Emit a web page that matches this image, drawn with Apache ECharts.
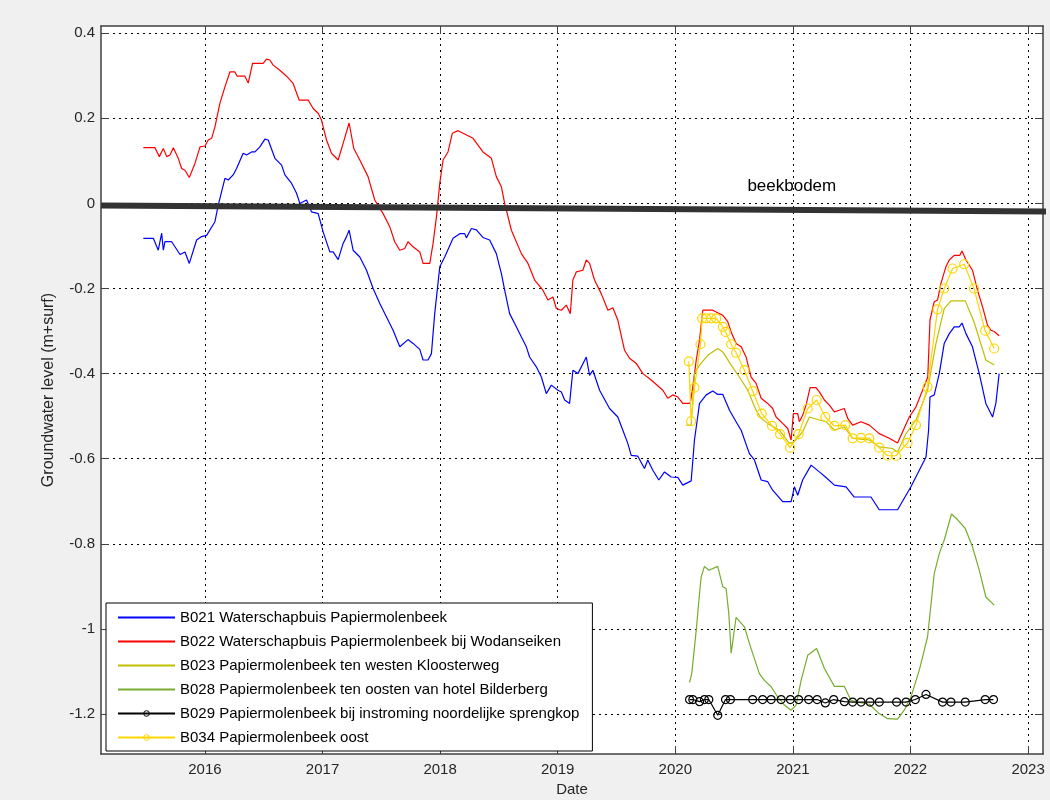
<!DOCTYPE html>
<html><head><meta charset="utf-8">
<script src="https://cdn.jsdelivr.net/npm/echarts@6/dist/echarts.min.js"></script>
<style>html,body{margin:0;padding:0;background:#f0f0f0;}#c{width:1050px;height:800px;}</style>
</head><body><div id="c"></div>
<script>
// ---- tick labels / ranges ----
const xTicks = [2016, 2017, 2018, 2019, 2020, 2021, 2022, 2023];
const yTicks = [-1.2, -1, -0.8, -0.6, -0.4, -0.2, 0, 0.2, 0.4];
const xRange = [2015.116, 2023.127];
const yRange = [-1.294, 0.417];

// ---- series names ----
const names = [
  'B021 Waterschapbuis Papiermolenbeek',
  'B022 Waterschapbuis Papiermolenbeek bij Wodanseiken',
  'B023 Papiermolenbeek ten westen Kloosterweg',
  'B028 Papiermolenbeek ten oosten van hotel Bilderberg',
  'B029 Papiermolenbeek bij instroming noordelijke sprengkop',
  'B034 Papiermolenbeek oost'
];

// ---- data: [decimal year, groundwater level m+surf] ----
const B021 = [[2015.476,-0.082],[2015.561,-0.082],[2015.603,-0.11],[2015.632,-0.07],[2015.646,-0.11],[2015.66,-0.09],[2015.717,-0.09],[2015.788,-0.12],[2015.83,-0.114],[2015.867,-0.141],[2015.929,-0.086],[2015.972,-0.078],[2016.014,-0.075],[2016.085,-0.043],[2016.113,-0.004],[2016.17,0.059],[2016.198,0.055],[2016.24,0.067],[2016.269,0.082],[2016.325,0.118],[2016.354,0.114],[2016.397,0.121],[2016.425,0.121],[2016.467,0.133],[2016.51,0.151],[2016.538,0.149],[2016.595,0.106],[2016.652,0.09],[2016.68,0.067],[2016.737,0.047],[2016.779,0.024],[2016.807,0.0],[2016.864,0.008],[2016.907,-0.02],[2016.963,-0.024],[2017.005,-0.067],[2017.062,-0.114],[2017.09,-0.114],[2017.133,-0.132],[2017.175,-0.094],[2017.204,-0.078],[2017.226,-0.063],[2017.26,-0.11],[2017.317,-0.126],[2017.374,-0.157],[2017.43,-0.2],[2017.487,-0.235],[2017.544,-0.267],[2017.6,-0.298],[2017.657,-0.337],[2017.727,-0.32],[2017.77,-0.329],[2017.827,-0.343],[2017.855,-0.368],[2017.897,-0.368],[2017.926,-0.353],[2017.954,-0.259],[2017.997,-0.149],[2018.039,-0.126],[2018.11,-0.082],[2018.167,-0.071],[2018.209,-0.071],[2018.223,-0.081],[2018.266,-0.059],[2018.308,-0.062],[2018.364,-0.08],[2018.421,-0.086],[2018.478,-0.118],[2018.521,-0.165],[2018.549,-0.204],[2018.591,-0.259],[2018.648,-0.29],[2018.691,-0.314],[2018.733,-0.337],[2018.761,-0.361],[2018.818,-0.384],[2018.861,-0.408],[2018.903,-0.447],[2018.946,-0.427],[2019.002,-0.439],[2019.031,-0.443],[2019.059,-0.462],[2019.101,-0.47],[2019.129,-0.392],[2019.172,-0.4],[2019.243,-0.361],[2019.271,-0.404],[2019.299,-0.392],[2019.356,-0.439],[2019.441,-0.482],[2019.511,-0.502],[2019.554,-0.533],[2019.596,-0.564],[2019.625,-0.592],[2019.681,-0.594],[2019.738,-0.623],[2019.766,-0.603],[2019.809,-0.627],[2019.86,-0.65],[2019.908,-0.631],[2019.965,-0.643],[2020.021,-0.644],[2020.064,-0.662],[2020.135,-0.652],[2020.163,-0.556],[2020.206,-0.47],[2020.263,-0.45],[2020.319,-0.441],[2020.361,-0.449],[2020.404,-0.449],[2020.461,-0.486],[2020.517,-0.513],[2020.56,-0.533],[2020.63,-0.588],[2020.673,-0.603],[2020.73,-0.65],[2020.786,-0.654],[2020.828,-0.674],[2020.913,-0.701],[2020.985,-0.701],[2021.013,-0.666],[2021.041,-0.686],[2021.083,-0.65],[2021.155,-0.615],[2021.225,-0.631],[2021.282,-0.644],[2021.353,-0.662],[2021.452,-0.666],[2021.522,-0.69],[2021.664,-0.69],[2021.734,-0.72],[2021.89,-0.72],[2022.004,-0.666],[2022.132,-0.596],[2022.154,-0.533],[2022.166,-0.455],[2022.202,-0.45],[2022.245,-0.4],[2022.287,-0.329],[2022.33,-0.306],[2022.372,-0.29],[2022.415,-0.29],[2022.438,-0.281],[2022.472,-0.306],[2022.527,-0.337],[2022.585,-0.4],[2022.641,-0.47],[2022.698,-0.502],[2022.726,-0.47],[2022.754,-0.4]];

const B022 = [[2015.476,0.131],[2015.575,0.131],[2015.612,0.11],[2015.646,0.129],[2015.675,0.11],[2015.703,0.114],[2015.731,0.131],[2015.773,0.106],[2015.802,0.082],[2015.83,0.078],[2015.867,0.061],[2015.915,0.094],[2015.958,0.133],[2016.0,0.135],[2016.028,0.149],[2016.057,0.153],[2016.085,0.18],[2016.127,0.235],[2016.17,0.274],[2016.212,0.309],[2016.255,0.309],[2016.274,0.299],[2016.34,0.299],[2016.368,0.283],[2016.405,0.329],[2016.495,0.329],[2016.524,0.339],[2016.552,0.337],[2016.58,0.325],[2016.637,0.313],[2016.694,0.299],[2016.75,0.282],[2016.801,0.243],[2016.878,0.243],[2016.92,0.223],[2016.963,0.212],[2016.991,0.196],[2017.034,0.149],[2017.076,0.118],[2017.133,0.102],[2017.175,0.141],[2017.226,0.189],[2017.266,0.129],[2017.317,0.102],[2017.387,0.063],[2017.444,0.008],[2017.515,-0.024],[2017.572,-0.055],[2017.614,-0.09],[2017.657,-0.11],[2017.699,-0.106],[2017.727,-0.09],[2017.77,-0.102],[2017.827,-0.114],[2017.855,-0.141],[2017.912,-0.141],[2017.94,-0.094],[2017.969,-0.031],[2017.997,0.047],[2018.025,0.102],[2018.067,0.121],[2018.104,0.165],[2018.152,0.171],[2018.195,0.165],[2018.28,0.153],[2018.364,0.121],[2018.436,0.106],[2018.478,0.063],[2018.521,0.039],[2018.549,0.0],[2018.606,-0.063],[2018.691,-0.118],[2018.747,-0.141],[2018.804,-0.18],[2018.874,-0.204],[2018.917,-0.227],[2018.96,-0.22],[2018.988,-0.247],[2019.031,-0.251],[2019.073,-0.239],[2019.107,-0.259],[2019.129,-0.18],[2019.158,-0.161],[2019.214,-0.157],[2019.243,-0.133],[2019.271,-0.141],[2019.313,-0.18],[2019.37,-0.212],[2019.427,-0.251],[2019.469,-0.245],[2019.511,-0.274],[2019.568,-0.345],[2019.611,-0.364],[2019.668,-0.376],[2019.724,-0.4],[2019.795,-0.415],[2019.894,-0.439],[2019.936,-0.458],[2019.979,-0.45],[2020.021,-0.455],[2020.064,-0.47],[2020.127,-0.47],[2020.149,-0.431],[2020.178,-0.368],[2020.206,-0.321],[2020.234,-0.251],[2020.319,-0.251],[2020.348,-0.255],[2020.404,-0.263],[2020.446,-0.278],[2020.475,-0.302],[2020.517,-0.329],[2020.56,-0.337],[2020.602,-0.361],[2020.645,-0.408],[2020.687,-0.423],[2020.73,-0.458],[2020.786,-0.47],[2020.828,-0.482],[2020.857,-0.502],[2020.913,-0.517],[2020.956,-0.529],[2020.985,-0.556],[2021.004,-0.494],[2021.041,-0.494],[2021.055,-0.513],[2021.083,-0.498],[2021.112,-0.474],[2021.146,-0.433],[2021.197,-0.433],[2021.225,-0.443],[2021.268,-0.462],[2021.31,-0.474],[2021.353,-0.49],[2021.394,-0.486],[2021.437,-0.482],[2021.466,-0.505],[2021.508,-0.521],[2021.58,-0.513],[2021.65,-0.521],[2021.734,-0.541],[2021.82,-0.552],[2021.89,-0.563],[2021.99,-0.502],[2022.047,-0.478],[2022.103,-0.439],[2022.147,-0.408],[2022.166,-0.274],[2022.202,-0.231],[2022.23,-0.227],[2022.259,-0.188],[2022.301,-0.149],[2022.33,-0.133],[2022.372,-0.122],[2022.42,-0.122],[2022.438,-0.112],[2022.472,-0.133],[2022.527,-0.157],[2022.57,-0.204],[2022.613,-0.243],[2022.655,-0.286],[2022.684,-0.298],[2022.712,-0.301],[2022.754,-0.311]];

const B023 = [[2020.093,-0.521],[2020.135,-0.521],[2020.163,-0.4],[2020.206,-0.38],[2020.276,-0.357],[2020.361,-0.341],[2020.404,-0.349],[2020.475,-0.38],[2020.545,-0.408],[2020.616,-0.439],[2020.687,-0.486],[2020.73,-0.505],[2020.786,-0.517],[2020.885,-0.533],[2020.97,-0.564],[2021.013,-0.56],[2021.083,-0.537],[2021.14,-0.502],[2021.225,-0.509],[2021.282,-0.513],[2021.353,-0.533],[2021.437,-0.525],[2021.508,-0.552],[2021.65,-0.556],[2021.734,-0.572],[2021.848,-0.576],[2021.89,-0.584],[2021.962,-0.541],[2022.047,-0.509],[2022.145,-0.439],[2022.217,-0.329],[2022.287,-0.247],[2022.344,-0.229],[2022.466,-0.229],[2022.54,-0.278],[2022.641,-0.368],[2022.712,-0.38]];

const B028 = [[2020.121,-1.126],[2020.14,-1.105],[2020.178,-1.003],[2020.206,-0.917],[2020.22,-0.878],[2020.248,-0.853],[2020.285,-0.862],[2020.361,-0.853],[2020.404,-0.901],[2020.432,-0.905],[2020.455,-0.964],[2020.475,-1.057],[2020.517,-0.973],[2020.588,-0.995],[2020.63,-1.034],[2020.715,-1.105],[2020.758,-1.121],[2020.815,-1.136],[2020.871,-1.16],[2020.928,-1.179],[2020.985,-1.191],[2021.027,-1.179],[2021.07,-1.121],[2021.126,-1.062],[2021.202,-1.046],[2021.268,-1.093],[2021.353,-1.135],[2021.437,-1.135],[2021.494,-1.168],[2021.565,-1.173],[2021.65,-1.177],[2021.734,-1.199],[2021.805,-1.211],[2021.89,-1.212],[2021.947,-1.191],[2022.004,-1.16],[2022.075,-1.097],[2022.145,-1.019],[2022.202,-0.87],[2022.245,-0.823],[2022.287,-0.791],[2022.349,-0.73],[2022.4,-0.743],[2022.466,-0.764],[2022.527,-0.807],[2022.585,-0.862],[2022.641,-0.925],[2022.712,-0.944]];

const B029 = [[2020.121,-1.166],[2020.149,-1.166],[2020.206,-1.171],[2020.248,-1.166],[2020.285,-1.166],[2020.361,-1.203],[2020.427,-1.166],[2020.469,-1.166],[2020.658,-1.166],[2020.743,-1.166],[2020.815,-1.166],[2020.9,-1.166],[2020.979,-1.166],[2021.049,-1.166],[2021.134,-1.166],[2021.206,-1.166],[2021.276,-1.174],[2021.347,-1.166],[2021.438,-1.171],[2021.508,-1.172],[2021.58,-1.172],[2021.656,-1.172],[2021.735,-1.172],[2021.882,-1.172],[2021.962,-1.172],[2022.041,-1.166],[2022.132,-1.154],[2022.273,-1.172],[2022.344,-1.172],[2022.466,-1.172],[2022.635,-1.166],[2022.706,-1.166]];

const B034 = [[2020.115,-0.371],[2020.135,-0.512],[2020.163,-0.433],[2020.214,-0.331],[2020.228,-0.27],[2020.263,-0.27],[2020.305,-0.27],[2020.348,-0.27],[2020.404,-0.29],[2020.427,-0.302],[2020.475,-0.331],[2020.517,-0.351],[2020.588,-0.392],[2020.658,-0.441],[2020.735,-0.494],[2020.823,-0.523],[2020.891,-0.542],[2020.976,-0.574],[2021.049,-0.542],[2021.126,-0.482],[2021.202,-0.462],[2021.276,-0.502],[2021.353,-0.523],[2021.446,-0.521],[2021.508,-0.552],[2021.58,-0.551],[2021.65,-0.552],[2021.734,-0.574],[2021.805,-0.593],[2021.876,-0.593],[2021.975,-0.563],[2022.047,-0.521],[2022.145,-0.431],[2022.23,-0.249],[2022.287,-0.2],[2022.358,-0.153],[2022.457,-0.143],[2022.54,-0.2],[2022.635,-0.299],[2022.712,-0.341]];

// streambed reference line ("beekbodem") and its label anchor
const beekbodem = [[2015.116,-0.005],[2023.179,-0.019]];
const beekLabelAt = [2020.613, 0.041];

const colors = ['#0000ff', '#ff0000', '#bfbf00', '#77ac30', '#000000', '#ffd500'];
const seriesData = [B021, B022, B023, B028, B029, B034];
const withMarkers = [false, false, false, false, true, true];

const FONT = '"Liberation Sans", Arial, sans-serif';
const frame = '#404040';

const chart = echarts.init(document.getElementById('c'), null, {renderer: 'canvas'});

const series = seriesData.map((d, i) => {
  const s = {
    name: names[i], type: 'line', data: d, animation: false,
    lineStyle: {color: colors[i], width: 1.2},
    emphasis: {disabled: true}, z: 3
  };
  if (withMarkers[i]) {
    s.symbol = 'circle';
    s.symbolSize = i === 5 ? 9 : 8;
    s.showSymbol = true;
    s.itemStyle = {color: 'rgba(255,255,255,0)', borderColor: colors[i], borderWidth: 1.2};
  } else {
    s.symbol = 'none';
    s.itemStyle = {color: colors[i]};
  }
  return s;
});

series.push({
  name: 'beekbodem', type: 'line', data: beekbodem, symbol: 'none', clip: false,
  animation: false, silent: true, z: 6,
  lineStyle: {color: '#333333', width: 6},
  markPoint: {
    symbol: 'circle', symbolSize: 0, silent: true, animation: false,
    data: [{coord: beekLabelAt}],
    label: {show: true, formatter: 'beekbodem', position: 'right', distance: 0,
            fontSize: 17, color: '#000', fontFamily: FONT}
  }
});

const legendItems = names.map((n, i) => withMarkers[i]
  ? {name: n, itemStyle: {color: 'rgba(255,255,255,0)', borderColor: colors[i], borderWidth: 1}}
  : {name: n, itemStyle: {opacity: 0}});

const dotted = {color: '#000', width: 1, type: [2, 4]};

const option = {
  animation: false,
  backgroundColor: '#f0f0f0',
  textStyle: {fontFamily: FONT},
  grid: {left: 101, top: 26, width: 942, height: 728, show: true,
         backgroundColor: '#ffffff', borderWidth: 0, containLabel: false, outerBoundsMode: 'none'},
  legend: {
    data: legendItems, orient: 'vertical', left: 106, top: 603,
    itemWidth: 57, itemHeight: 7, itemGap: 9,
    padding: [7, 13, 6, 11],
    backgroundColor: '#ffffff', borderColor: '#000', borderWidth: 1, borderRadius: 0,
    textStyle: {fontSize: 15, color: '#000', fontFamily: FONT, lineHeight: 14},
    selectedMode: false
  },
  xAxis: [{
    type: 'value', min: xRange[0], max: xRange[1], position: 'bottom',
    name: 'Date', nameLocation: 'middle', nameGap: 28,
    nameTextStyle: {fontSize: 15, color: '#262626', fontFamily: FONT},
    axisLine: {show: true, onZero: false, lineStyle: {color: frame, width: 1.5}},
    axisTick: {show: true, inside: true, length: 8, customValues: xTicks, lineStyle: {color: frame}},
    axisLabel: {show: true, customValues: xTicks, formatter: v => String(v), fontSize: 15,
                color: '#262626', margin: 8, fontFamily: FONT},
    splitLine: {show: true, lineStyle: dotted}
  }, {
    type: 'value', min: xRange[0], max: xRange[1], position: 'top',
    axisLine: {show: true, onZero: false, lineStyle: {color: frame, width: 1.5}},
    axisTick: {show: true, inside: true, length: 8, customValues: xTicks, lineStyle: {color: frame}},
    axisLabel: {show: false}, splitLine: {show: false}
  }],
  yAxis: [{
    type: 'value', min: yRange[0], max: yRange[1], position: 'left',
    name: 'Groundwater level (m+surf)', nameLocation: 'middle', nameGap: 44, nameRotate: 90,
    nameTextStyle: {fontSize: 16, color: '#262626', fontFamily: FONT},
    axisLine: {show: true, onZero: false, lineStyle: {color: frame, width: 1.5}},
    axisTick: {show: true, inside: true, length: 8, customValues: yTicks, lineStyle: {color: frame}},
    axisLabel: {show: true, customValues: yTicks, formatter: v => String(v), fontSize: 15,
                color: '#262626', margin: 6, fontFamily: FONT},
    splitLine: {show: true, lineStyle: dotted}
  }, {
    type: 'value', min: yRange[0], max: yRange[1], position: 'right',
    axisLine: {show: true, onZero: false, lineStyle: {color: frame, width: 1.5}},
    axisTick: {show: true, inside: true, length: 8, customValues: yTicks, lineStyle: {color: frame}},
    axisLabel: {show: false}, splitLine: {show: false}
  }],
  series: series
};
chart.setOption(option);
</script>
</body></html>
